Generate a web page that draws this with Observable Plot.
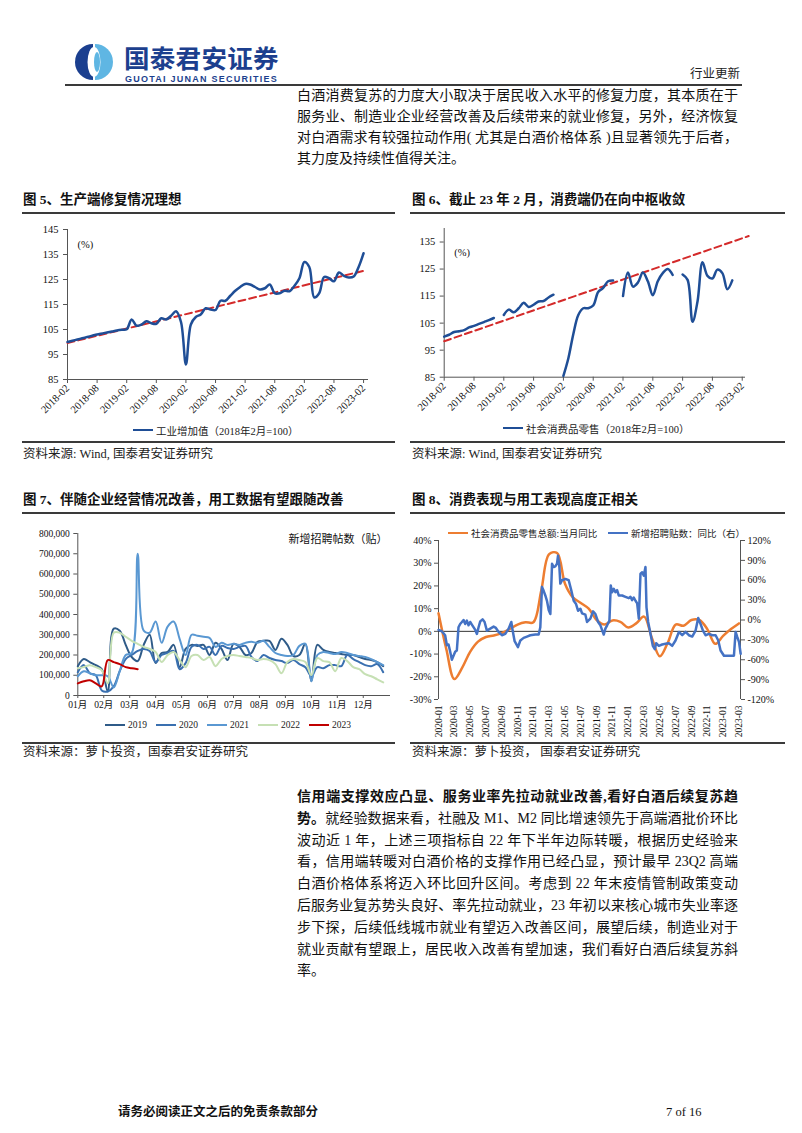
<!DOCTYPE html>
<html lang="zh-CN">
<head>
<meta charset="utf-8">
<script src="https://cdn.jsdelivr.net/npm/d3@7"></script>
<script src="https://cdn.jsdelivr.net/npm/@observablehq/plot@0.6"></script>
<style>
html,body{margin:0;padding:0;background:#fff;}
body{position:relative;width:802px;height:1133px;overflow:hidden;font-family:"Liberation Serif","Noto Sans CJK SC",serif;color:#111;}
.a{position:absolute;white-space:nowrap;}
.p{position:absolute;left:297px;width:441px;font-size:14px;line-height:20px;white-space:nowrap;text-align:justify;text-align-last:justify;color:#111;}
.p.last{text-align-last:left;}
.rule{position:absolute;height:2px;background:#3a3a3a;}
.title{position:absolute;font-size:13.5px;line-height:18px;font-weight:bold;white-space:nowrap;color:#111;}
.src{position:absolute;font-size:12.5px;line-height:16px;white-space:nowrap;color:#222;}
.leg{position:absolute;white-space:nowrap;display:flex;align-items:center;color:#222;}
.sw{display:inline-block;width:20px;height:2.5px;margin-right:3px;}
</style>
</head>
<body>
<script>
// ================= DATA =================
// Figure 5: industrial value added index (2018-02 = 100), monthly 2018-02 .. 2023-02
const xLabels5 = ["2018-02","2018-08","2019-02","2019-08","2020-02","2020-08","2021-02","2021-08","2022-02","2022-08","2023-02"];
const yTicks5 = [85,95,105,115,125,135,145];
const industry5 = [
  100,100.5,101,101.5,102,102.5,103,103.4,103.8,104.2,104.6,104.9,
  105.1,109,106.5,107,108.3,107.5,107.3,109.5,109,110.5,112.3,108,
  91,107,110,111,113.5,113,112.8,116.5,116.5,118.5,120.5,122,
  123.2,123,122,121,121.5,123,119.5,119.5,120.5,120.3,122.5,125.5,
  132,130,117.8,119.5,126,125.5,124.3,127.8,126.5,125.8,126.2,130,
  135.5
];
const trend5Idx = [0, 60.3];
const trend5Val = [99.6, 128.6];

// Figure 6: retail sales index (2018-02 = 100), monthly 2018-02 .. 2023-02 (null = no data)
const yTicks6 = [85,95,105,115,125,135];
const retail6 = [
  100,100.7,101.7,102,102.4,103.4,104,104.7,105.4,106.1,106.9,
  null,
  108,110,109,110.5,112.5,111,111.8,113,113.2,114.5,115.5,
  null,
  85.5,92,101,108,110.5,110.5,111.5,116.5,118,120.5,120.8,
  null,
  115,123.7,118.5,120,123.7,120.5,115.3,120.5,123.5,125,122.8,
  null,
  123,121,105.5,113,127.5,122.5,121.5,124.8,123.5,117.5,120.8,
  null,null
];
const trend6Idx = [0, 61.3];
const trend6Val = [98.3, 137.2];

// Figure 7: weekly new job postings (thousands), 52 weeks per year
const months7 = ["01月","02月","03月","04月","05月","06月","07月","08月","09月","10月","11月","12月"];
const yTicks7 = [0,100000,200000,300000,400000,500000,600000,700000,800000];
const years7 = ["2019","2020","2021","2022","2023"];
const colors7 = ["#2f5b88","#3a70b0","#5a98d2","#c6e0b4","#c00000"];
const posts2019 = [145,180,165,150,130,20,330,320,250,190,170,250,300,160,210,215,250,140,230,250,245,250,200,260,230,175,255,240,200,210,265,270,270,225,280,250,195,200,255,70,250,225,215,210,205,200,200,190,180,175,165,145];
const posts2020 = [115,150,110,100,25,20,45,120,180,200,220,230,220,165,200,210,220,130,160,240,250,230,240,200,245,235,230,240,245,190,170,200,185,175,170,160,175,155,140,95,140,135,150,150,145,200,180,165,150,145,155,115];
const posts2021 = [95,120,110,100,100,95,40,120,200,210,700,320,310,365,260,340,365,280,200,300,295,290,285,240,260,250,255,250,260,265,260,270,240,210,200,195,200,245,255,70,200,215,210,205,215,210,200,195,190,180,165,150];
const posts2022 = [135,140,150,140,125,60,310,310,290,270,255,240,230,215,165,200,215,175,140,195,200,175,190,145,180,195,200,195,190,185,175,180,175,155,110,165,180,175,165,100,185,170,165,120,185,170,140,130,105,95,80,65];
const posts2023 = [60,70,75,60,45,175,165,155,140,135,130];

// Figure 8: retail sales YoY (monthly, %) and new postings YoY (%, right axis)
const xLabels8 = ["2020-01","2020-03","2020-05","2020-07","2020-09","2020-11","2021-01","2021-03","2021-05","2021-07","2021-09","2021-11","2022-01","2022-03","2022-05","2022-07","2022-09","2022-11","2023-01","2023-03"];
const leftTicks8 = [-30,-20,-10,0,10,20,30,40];
const rightTicks8 = [-120,-90,-60,-30,0,30,60,90,120];
const retailYoY8 = [
  8,-8,-21,-16,-9,-4.5,-2.5,-1.8,-0.8,1,3,4,
  4,18,34,34.5,21,15,12.5,10,5,3,4.8,4.2,
  1.7,3.5,6.5,-3,-11,-5,3,2.5,5,5,1,-5.5,
  -2,1,3.5
];
const postsYoYT8 = [0,0.42,0.84,1.06,1.27,1.48,1.69,1.9,2.11,2.32,2.53,2.74,2.96,3.17,3.38,3.59,3.8,4.01,4.22,4.65,4.86,5.07,5.28,5.57,5.83,6.12,6.55,6.97,7.26,7.6,8.02,8.45,8.87,9.21,9.38,9.63,10.05,10.35,10.77,11.19,11.61,12.25,12.67,12.88,13.09,13.3,13.51,13.72,13.94,14.15,14.36,14.57,14.78,14.99,15.12,15.29,15.41,15.63,16.05,16.47,16.81,17.1,17.4,17.65,17.95,18.16,18.58,18.79,19.21,19.55,19.85,20.19,20.48,20.9,21.11,21.33,21.62,21.79,21.96,22.17,22.38,22.59,22.8,23.23,23.65,24.07,24.28,24.49,24.7,24.92,25.13,25.34,25.55,25.76,25.97,26.18,26.31,26.52,26.82,27.11,27.36,27.53,27.87,28.29,28.72,29.14,29.56,29.98,30.41,30.83,31.25,31.67,32.09,32.52,32.85,33.15,33.45,33.78,34.21,34.63,35.05,35.39,35.68,36.11,36.53,36.95,37.37,37.58,37.8,38.01,38.22];
const postsYoYV8 = [-15,-17,-23,-38,-37,-48,-60,-54,-48,-46,-11,-6,-3,0,-6,-1,-8,-3,-7,-15,-21,-11,-2,1,-3,-16,-13,-10,-12,-18,-23,-21,-13,-3,-16,-32,-41,-31,-27,-25,-23,-22,-22,-11,50,44,37,29,15,9,85,80,81,85,97,80,55,60,62,60,44,29,24,14,17,10,8,-3,2,13,9,-3,-8,-22,-13,-8,-1,52,42,47,42,45,37,37,35,33,35,30,34,29,25,2,70,72,67,80,19,-3,-21,-39,-44,-35,-39,-37,-36,-35,-39,-31,-18,-23,-18,-23,-25,-16,3,-6,-16,-23,-21,-23,-23,-31,-46,-54,-54,-54,-54,-18,-26,-33,-51];

// ================= HELPERS =================
const FONT = "'Liberation Serif','Noto Sans CJK SC',serif";
function put(node, left, top) {
  node.style.position = "absolute";
  node.style.left = left + "px";
  node.style.top = top + "px";
  document.body.appendChild(node);
  return node;
}
function div(cls, html, left, top, extra) {
  const d = document.createElement("div");
  d.className = cls;
  d.innerHTML = html;
  if (extra) Object.assign(d.style, extra);
  return put(d, left, top);
}
function rule(left, top, width) { return div("rule", "", left, top, {width: width + "px"}); }
function legend(items, left, centerY, fontSize, gap) {
  const d = document.createElement("div");
  d.className = "leg";
  d.style.fontSize = fontSize + "px";
  d.style.height = "14px";
  items.forEach(([label, color], k) => {
    const s = document.createElement("span");
    s.className = "sw"; s.style.background = color;
    if (k > 0) s.style.marginLeft = gap + "px";
    d.appendChild(s);
    const t = document.createElement("span"); t.textContent = label;
    d.appendChild(t);
  });
  return put(d, left, centerY - 7);
}

// ================= HEADER =================
const logo = document.createElementNS("http://www.w3.org/2000/svg", "svg");
logo.setAttribute("width", "50"); logo.setAttribute("height", "38");
logo.innerHTML = `
  <path d="M24,1 A18,18 0 0 0 24,37 Z" fill="#1b3f8f"/>
  <path d="M26,1 A18,18 0 0 1 26,37 Z" fill="#5fb6e3"/>
  <ellipse cx="25" cy="19" rx="6.5" ry="15" fill="#fff"/>
  <ellipse cx="28" cy="19" rx="3" ry="10" fill="#5fb6e3"/>`;
put(logo, 69, 43);
div("a", "国泰君安证券", 124, 39, {fontSize: "25.5px", fontWeight: "bold", color: "#1c3f8e", fontFamily: "'Noto Sans CJK SC',sans-serif", lineHeight: "36px", letterSpacing: "0.3px"});
div("a", "GUOTAI JUNAN SECURITIES", 125, 75, {fontSize: "9px", fontWeight: "bold", color: "#1c3f8e", fontFamily: "'Liberation Sans',sans-serif", lineHeight: "9px", letterSpacing: "1.25px"});
div("a", "行业更新", 690, 65, {fontSize: "12.5px", lineHeight: "16px", color: "#222", fontFamily: "'Noto Sans CJK SC',sans-serif"});
rule(65, 84, 677);

// ================= PARAGRAPH 1 =================
const para1 = [
  "白酒消费复苏的力度大小取决于居民收入水平的修复力度，其本质在于",
  "服务业、制造业企业经营改善及后续带来的就业修复，另外，经济恢复",
  "对白酒需求有较强拉动作用( 尤其是白酒价格体系 )且显著领先于后者，",
  "其力度及持续性值得关注。"
];
para1.forEach((t, k) => div("p" + (k === para1.length - 1 ? " last" : ""), t, 297, 86 + k * 21));

// ================= TITLES / RULES / SOURCES =================
div("title", "图 5、生产端修复情况理想", 23, 191);
div("title", "图 6、截止 23 年 2 月，消费端仍在向中枢收敛", 412, 191);
rule(22, 212, 373); rule(410, 212, 375);
rule(22, 441, 373); rule(410, 441, 375);
div("src", "资料来源: Wind, 国泰君安证券研究", 23, 446);
div("src", "资料来源: Wind, 国泰君安证券研究", 412, 446);

div("title", "图 7、伴随企业经营情况改善，用工数据有望跟随改善", 23, 491);
div("title", "图 8、消费表现与用工表现高度正相关", 412, 491);
rule(22, 512, 373); rule(410, 512, 375);
rule(22, 742, 373); rule(410, 742, 375);
div("src", "资料来源：萝卜投资，国泰君安证券研究", 23, 744);
div("src", "资料来源：萝卜投资，&nbsp;国泰君安证券研究", 412, 744);

// ================= CHART 5 =================
const rows5 = industry5.map((v, i) => ({i, v}));
const trendRows5 = trend5Idx.map((i, k) => ({i, v: trend5Val[k]}));
const c5 = Plot.plot({
  width: 373, height: 226,
  marginTop: 13, marginLeft: 45, marginRight: 27, marginBottom: 63,
  style: {fontFamily: FONT, fontSize: "10px", color: "#111", background: "transparent", overflow: "visible"},
  x: {domain: [0, 61]},
  y: {domain: [85, 145]},
  marks: [
    Plot.ruleX([0], {stroke: "#555"}),
    Plot.ruleY([85], {stroke: "#555"}),
    Plot.axisY({ticks: yTicks5, tickSize: 4, tickPadding: 5, label: null, stroke: "#555", fontSize: 10.5}),
    Plot.axisX({ticks: d3.range(0, 61, 6), tickFormat: i => xLabels5[i / 6], tickRotate: -45, tickSize: 4, tickPadding: 3, label: null, stroke: "#555", fontSize: 10.5}),
    Plot.line(trendRows5, {x: "i", y: "v", stroke: "#d42a2a", strokeWidth: 2, strokeDasharray: "7,4"}),
    Plot.line(rows5, {x: "i", y: "v", stroke: "#1f4e96", strokeWidth: 2.5, curve: "catmull-rom"}),
    Plot.text(["(%)"], {frameAnchor: "top-left", textAnchor: "start", lineAnchor: "middle", dx: 10, dy: 15, fontSize: 10.5})
  ]
});
put(c5, 22, 216);
legend([["工业增加值（2018年2月=100）", "#1f4e96"]], 133, 430, 10.5, 0);

// ================= CHART 6 =================
const rows6 = retail6.map((v, i) => ({i, v}));
const trendRows6 = trend6Idx.map((i, k) => ({i, v: trend6Val[k]}));
const c6 = Plot.plot({
  width: 375, height: 225,
  marginTop: 12, marginLeft: 33.7, marginRight: 40, marginBottom: 64.3,
  style: {fontFamily: FONT, fontSize: "10px", color: "#111", background: "transparent", overflow: "visible"},
  x: {domain: [0, 60.66]},
  y: {domain: [85, 140]},
  marks: [
    Plot.ruleX([0], {stroke: "#555"}),
    Plot.ruleY([85], {stroke: "#555"}),
    Plot.axisY({ticks: yTicks6, tickSize: 4, tickPadding: 5, label: null, stroke: "#555", fontSize: 10.5}),
    Plot.axisX({ticks: d3.range(0, 61, 6), tickFormat: i => xLabels5[i / 6], tickRotate: -45, tickSize: 4, tickPadding: 3, label: null, stroke: "#555", fontSize: 10.5}),
    Plot.line(trendRows6, {x: "i", y: "v", stroke: "#d42a2a", strokeWidth: 2, strokeDasharray: "7,4"}),
    Plot.line(rows6, {x: "i", y: "v", stroke: "#1f4e96", strokeWidth: 2.5, curve: "catmull-rom"}),
    Plot.text(["(%)"], {frameAnchor: "top-left", textAnchor: "start", lineAnchor: "middle", dx: 10, dy: 24, fontSize: 10.5})
  ]
});
put(c6, 410, 216);
legend([["社会消费品零售（2018年2月=100）", "#1f4e96"]], 503, 428, 10.5, 0);

// ================= CHART 7 =================
const series7 = [posts2019, posts2020, posts2021, posts2022, posts2023];
const rows7 = series7.flatMap((arr, k) => arr.map((v, w) => ({year: years7[k], m: 1 + w * 12 / 52, v: v * 1000})));
const c7 = Plot.plot({
  width: 373, height: 200,
  marginTop: 15, marginLeft: 55.3, marginRight: 5, marginBottom: 23,
  style: {fontFamily: FONT, fontSize: "9.5px", color: "#111", background: "transparent", overflow: "visible"},
  x: {domain: [1, 13.05]},
  y: {domain: [0, 800000]},
  color: {domain: years7, range: colors7},
  marks: [
    Plot.ruleX([1], {stroke: "#555"}),
    Plot.ruleY([0], {stroke: "#555"}),
    Plot.axisY({ticks: yTicks7, tickFormat: d3.format(","), tickSize: 4, tickPadding: 4, label: null, stroke: "#555", fontSize: 9.5}),
    Plot.axisX({ticks: d3.range(1, 13), tickFormat: m => months7[m - 1], tickSize: 3, tickPadding: 3, label: null, stroke: "#555", fontSize: 9.5}),
    Plot.line(rows7, {x: "m", y: "v", z: "year", stroke: "year", strokeWidth: 2, curve: "catmull-rom"}),
    Plot.text(["新增招聘帖数（贴）"], {frameAnchor: "top-right", textAnchor: "end", lineAnchor: "middle", dx: -3, dy: 6, fontSize: 11})
  ]
});
put(c7, 22, 518);
legend(years7.map((y, k) => [y, colors7[k]]), 105, 725, 9.5, 9);

// ================= CHART 8 =================
const toL = r => -30 + (r + 120) * 70 / 240;
const fromL = l => -120 + (l + 30) * 240 / 70;
const orange8 = retailYoY8.map((v, i) => ({t: i, v}));
const blue8 = postsYoYT8.map((t, k) => ({t, v: postsYoYV8[k]}));
const c8 = Plot.plot({
  width: 385, height: 220,
  marginTop: 20, marginLeft: 33, marginRight: 50, marginBottom: 41,
  style: {fontFamily: FONT, fontSize: "10px", color: "#111", background: "transparent", overflow: "visible"},
  x: {domain: [0, 38.2]},
  y: {domain: [-30, 40]},
  marks: [
    Plot.ruleX([0], {stroke: "#555"}),
    Plot.ruleX([38.2], {stroke: "#555"}),
    Plot.axisY({anchor: "left", ticks: leftTicks8, tickFormat: d => d + "%", tickSize: 4, tickPadding: 3, label: null, stroke: "#555", fontSize: 10}),
    Plot.axisY({anchor: "right", ticks: rightTicks8.map(toL), tickFormat: d => Math.round(fromL(d)) + "%", tickSize: 4, tickPadding: 3, label: null, stroke: "#555", fontSize: 10}),
    Plot.axisX({ticks: d3.range(0, 39, 2), tickFormat: i => xLabels8[i / 2], tickRotate: -90, tickSize: 0, tickPadding: 6, label: null, fontSize: 9.5}),
    Plot.ruleY([0], {stroke: "#333"}),
    Plot.line(orange8, {x: "t", y: "v", stroke: "#ED7D31", strokeWidth: 2.5, curve: "catmull-rom"}),
    Plot.line(blue8, {x: "t", y: d => toL(d.v), stroke: "#4472C4", strokeWidth: 2.5})
  ]
});
put(c8, 405, 520);
legend([["社会消费品零售总额:当月同比", "#ED7D31"]], 448, 533, 9.5, 0);
legend([["新增招聘贴数：同比（右）", "#4472C4"]], 608, 533, 9.5, 0);

// ================= PARAGRAPH 2 =================
const para2 = [
  "<b>信用端支撑效应凸显、服务业率先拉动就业改善,看好白酒后续复苏趋</b>",
  "<b>势。</b>就经验数据来看，社融及 M1、M2 同比增速领先于高端酒批价环比",
  "波动近 1 年，上述三项指标自 22 年下半年边际转暖，根据历史经验来",
  "看，信用端转暖对白酒价格的支撑作用已经凸显，预计最早 23Q2 高端",
  "白酒价格体系将迈入环比回升区间。考虑到 22 年末疫情管制政策变动",
  "后服务业复苏势头良好、率先拉动就业，23 年初以来核心城市失业率逐",
  "步下探，后续低线城市就业有望迈入改善区间，展望后续，制造业对于",
  "就业贡献有望跟上，居民收入改善有望加速，我们看好白酒后续复苏斜",
  "率。"
];
para2.forEach((t, k) => div("p" + (k === para2.length - 1 ? " last" : ""), t, 297, 787 + k * 21.8));

// ================= FOOTER =================
div("a", "请务必阅读正文之后的免责条款部分", 118, 1104, {fontSize: "12.5px", fontWeight: "bold", lineHeight: "16px", color: "#111"});
div("a", "7 of 16", 666, 1104, {fontSize: "12.5px", lineHeight: "16px", color: "#111"});
</script>
</body>
</html>
